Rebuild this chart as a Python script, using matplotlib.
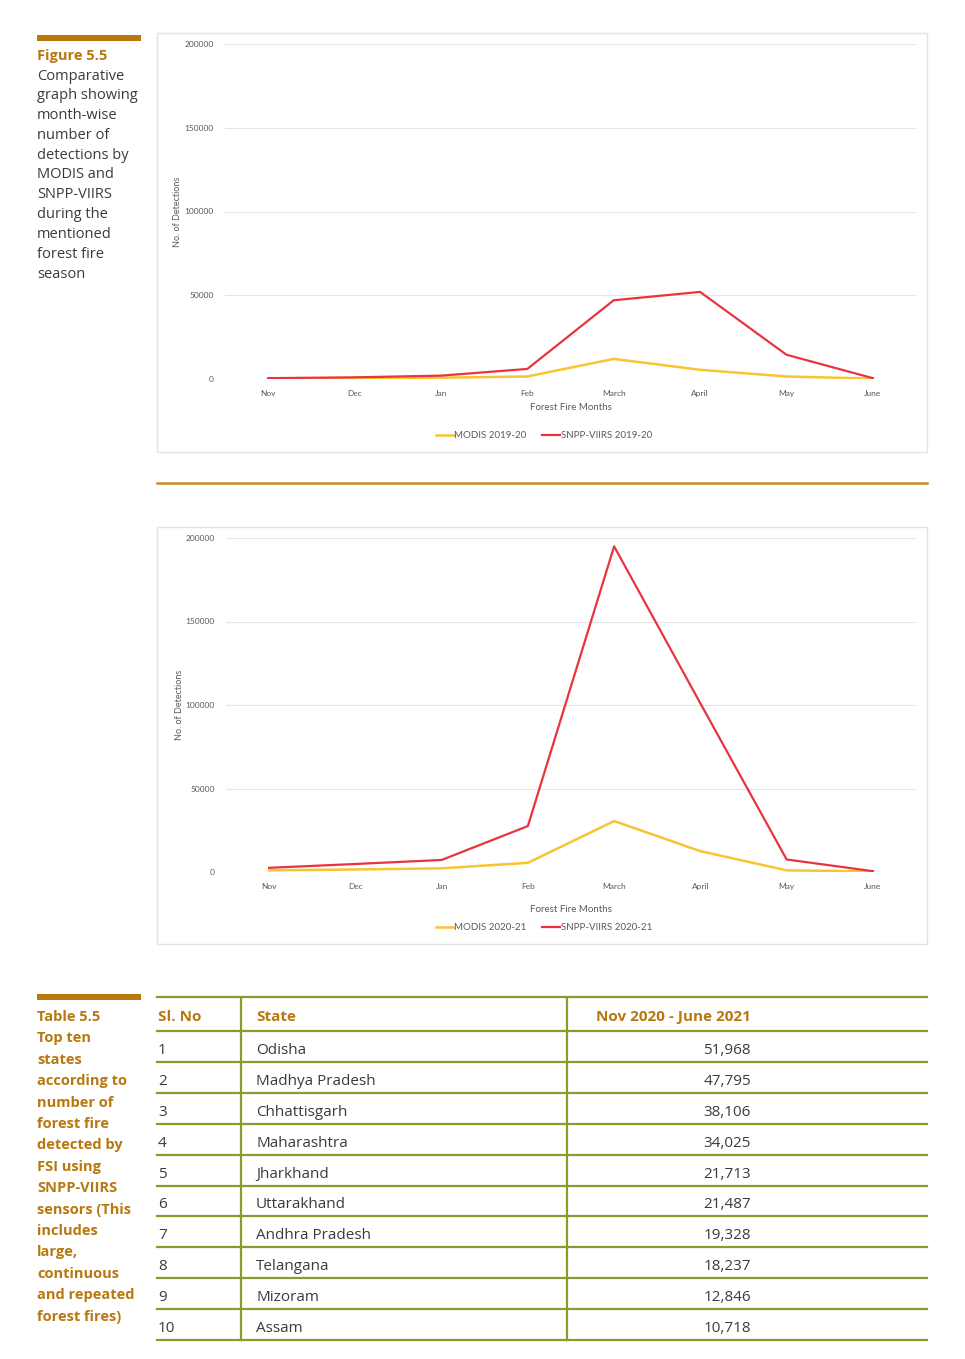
import matplotlib.pyplot as plt
from matplotlib.patches import Rectangle

W, H = 965, 1359

months = ["Nov", "Dec", "Jan", "Feb", "March", "April", "May", "June"]
modis_1920 = [300, 500, 800, 1500, 12000, 5500, 1500, 200]
viirs_1920 = [500, 1000, 2000, 6000, 47000, 52000, 14500, 500]
modis_2021 = [1000, 1500, 2200, 5500, 30500, 12500, 1000, 300]
viirs_2021 = [2500, 4800, 7200, 27500, 195000, 101000, 7500, 500]
y_ticks = [0, 50000, 100000, 150000, 200000]

states = ["Odisha", "Madhya Pradesh", "Chhattisgarh", "Maharashtra", "Jharkhand",
          "Uttarakhand", "Andhra Pradesh", "Telangana", "Mizoram", "Assam"]
fire_counts = [51968, 47795, 38106, 34025, 21713, 21487, 19328, 18237, 12846, 10718]

fig_caption = ["Comparative", "graph showing", "month-wise", "number of",
               "detections by", "MODIS and", "SNPP-VIIRS", "during the",
               "mentioned", "forest fire", "season"]
tab_caption = ["Top ten", "states", "according to", "number of", "forest fire",
               "detected by", "FSI using", "SNPP-VIIRS", "sensors (This",
               "includes", "large,", "continuous", "and repeated", "forest fires)"]

GOLD = "#b8780f"
GREEN = "#8a9a2c"
YELLOW = "#f7c531"
RED = "#e8343f"
TXT = "#3b3b3b"
CH_FONT = ["Lato", "DejaVu Sans"]
SIDE_FONT = ["Open Sans", "DejaVu Sans"]

fig = plt.figure(figsize=(W / 100, H / 100), dpi=100)
fig.patch.set_facecolor("white")


def px_axes(x0, y0, x1, y1):
    return fig.add_axes([x0 / W, 1 - y1 / H, (x1 - x0) / W, (y1 - y0) / H])


def draw_chart(box, area, modis, viirs, labels, xlabel_y, legend_y, ylabel_x):
    bx0, by0, bx1, by1 = box
    fig.patches.append(Rectangle((bx0 / W, 1 - by1 / H), (bx1 - bx0) / W, (by1 - by0) / H,
                                 transform=fig.transFigure, fill=False,
                                 edgecolor="#e3e3e3", lw=1.0))
    ax = px_axes(*area)
    x = range(len(months))
    ax.plot(x, modis, color=YELLOW, lw=1.8, label=labels[0], zorder=3)
    ax.plot(x, viirs, color=RED, lw=1.6, label=labels[1], zorder=3)
    ax.set_xlim(-0.5, len(months) - 0.5)
    ax.set_ylim(0, 200000)
    ax.set_yticks(y_ticks)
    ax.set_yticklabels([str(v) for v in y_ticks], fontsize=6, color="#595959",
                       family=CH_FONT)
    ax.set_xticks(list(x))
    ax.set_xticklabels(months, fontsize=6, color="#595959", family=CH_FONT)
    ax.tick_params(length=0, pad=8)
    ax.grid(axis="y", color="#e6e6e6", lw=0.8)
    for s in ax.spines.values():
        s.set_visible(False)
    ax.set_axisbelow(True)
    cx = (area[0] + area[2]) / 2
    fig.text(cx / W, 1 - xlabel_y / H, "Forest Fire Months", ha="center", va="center",
             fontsize=7, color="#595959", family=CH_FONT)
    fig.text(ylabel_x / W, 1 - (area[1] + area[3]) / 2 / H, "No. of Detections",
             rotation=90, ha="center", va="center", fontsize=6.5, color="#595959",
             family=CH_FONT)
    ax.legend(loc="center", bbox_to_anchor=(544 / W, 1 - legend_y / H),
              bbox_transform=fig.transFigure, ncol=2, frameon=False,
              handlelength=1.8, handletextpad=0.1, columnspacing=1.6,
              prop={"family": CH_FONT, "size": 7}, labelcolor="#595959")


draw_chart((157, 33, 927, 452), (225, 44, 916, 379), modis_1920, viirs_1920,
           ["MODIS 2019-20", "SNPP-VIIRS 2019-20"], 408, 436, 178)
draw_chart((157, 527, 927, 944), (226, 538, 916, 872), modis_2021, viirs_2021,
           ["MODIS 2020-21", "SNPP-VIIRS 2020-21"], 910, 928, 179)

# overlay in pixel coordinates for sidebar, separator and table
ov = fig.add_axes([0, 0, 1, 1])
ov.set_xlim(0, W)
ov.set_ylim(H, 0)
ov.axis("off")
ov.patch.set_alpha(0)

ov.plot([157, 927], [483, 483], color="#c98a2a", lw=1.8)

# figure caption
ov.add_patch(Rectangle((37, 34.5), 104, 6, color=GOLD, lw=0))
ov.text(37, 56, "Figure 5.5", fontsize=10.5, fontweight="bold", color=GOLD,
        va="center", family=SIDE_FONT)
for i, line in enumerate(fig_caption):
    ov.text(37, 76 + i * 19.8, line, fontsize=10.5, color=TXT, va="center",
            family=SIDE_FONT)

# table caption
ov.add_patch(Rectangle((37, 993.5), 104, 6, color=GOLD, lw=0))
ov.text(37, 1017, "Table 5.5", fontsize=10.5, fontweight="bold", color=GOLD,
        va="center", family=SIDE_FONT)
for i, line in enumerate(tab_caption):
    ov.text(37, 1038.4 + i * 21.4, line, fontsize=10.5, fontweight="bold", color=GOLD,
            va="center", family=SIDE_FONT)

# table
top, head_bot, row_h = 997, 1031, 30.9
n = len(states)
bottom = head_bot + n * row_h
ov.plot([157, 927], [top, top], color=GREEN, lw=1.6)
ov.plot([157, 927], [head_bot, head_bot], color=GREEN, lw=1.6)
for xv in (241, 567):
    ov.plot([xv, xv], [top, bottom], color=GREEN, lw=1.6)
hy = (top + head_bot) / 2 + 3
ov.text(158, hy, "Sl. No", fontsize=11, fontweight="bold", color=GOLD, va="center",
        family=SIDE_FONT)
ov.text(256, hy, "State", fontsize=11, fontweight="bold", color=GOLD, va="center",
        family=SIDE_FONT)
ov.text(751, hy, "Nov 2020 - June 2021", fontsize=11, fontweight="bold", color=GOLD,
        va="center", ha="right", family=SIDE_FONT)
for i, (st, cnt) in enumerate(zip(states, fire_counts)):
    y0 = head_bot + i * row_h
    yc = y0 + row_h / 2 + 4
    ov.plot([157, 927], [y0 + row_h, y0 + row_h], color=GREEN, lw=1.6)
    ov.text(158, yc, str(i + 1), fontsize=11, color=TXT, va="center", family=SIDE_FONT)
    ov.text(256, yc, st, fontsize=11, color=TXT, va="center", family=SIDE_FONT)
    ov.text(751, yc, f"{cnt:,}", fontsize=11, color=TXT, va="center", ha="right",
            family=SIDE_FONT)

fig.savefig("out.png", dpi=100)
